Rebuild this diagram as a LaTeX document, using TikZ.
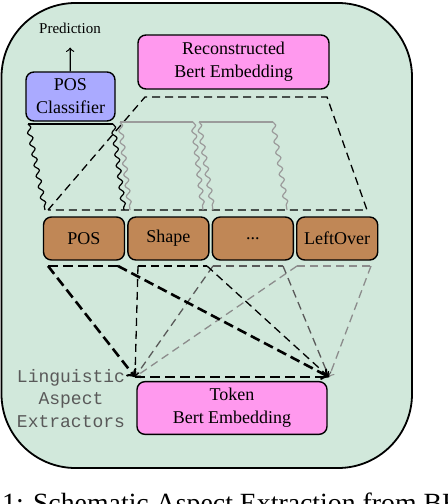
\documentclass[tikz,border=0pt]{standalone}
\usepackage{fontspec}
\setmainfont{Liberation Serif}
\setmonofont{Liberation Mono}
\usetikzlibrary{positioning,decorations.pathmorphing}
\definecolor{fondo} {RGB}{209,232,219}
\definecolor{rosa}  {RGB}{255,153,238}
\definecolor{lila}  {RGB}{170,170,255}
\definecolor{marron}{RGB}{192,135,86}
\definecolor{gris}  {RGB}{155,155,155}

\begin{document}
\begin{tikzpicture}[   % opciones por defecto
      x=0.5pt, y=-0.5pt, % una unidad = un pixel de la imagen
      line width=0.6pt,
      font=\fontsize{9}{11.5}\selectfont
    ]
    \tikzstyle{caja}=[draw, rounded corners=4pt, line width=0.7pt, align=center];
    \tikzstyle{aspecto}=[caja, fill=marron, minimum width=40.5pt, minimum height=21.5pt, inner sep=1pt];
    \tikzstyle{ola}=[decorate, decoration={snake, segment length=5.5pt, amplitude=1.1pt}];
    \tikzstyle{fino}=[dash pattern=on 4pt off 2.5pt, line width=0.65pt, draw=black];
    \tikzstyle{grueso}=[dash pattern=on 5pt off 2.5pt, line width=1.3pt, draw=black];
    \tikzstyle{medio}=[fino, draw=black!65];
    \tikzstyle{claro}=[fino, draw=black!45];
    %
    \useasboundingbox (0,0) rectangle (448,504);
    \clip (0,0) rectangle (448,504);
    %
    % marco de fondo
    \draw[fill=fondo, line width=0.9pt, rounded corners=37pt] (1.5,3) rectangle (412,468);
    %
    % clasificador y prediccion
    \node [caja, fill=lila, minimum width=44.5pt, minimum height=24.5pt] (cls) at (70.5,96.5) {POS\\Classifier};
    \node [font=\fontsize{7.5}{9}\selectfont] (pred) at (70,28) {Prediction};
    \draw[->, shorten >=3.5pt] (cls) -- (pred);
    %
    % embedding reconstruido
    \node [caja, fill=rosa, minimum width=95.5pt, minimum height=27pt] (rec) at (233.5,62) {Reconstructed\\Bert Embedding};
    %
    % extractores de aspectos
    \node [aspecto] (pos) at (84,238.5) {POS};
    \node [aspecto, right=1pt of pos]   (shape) {Shape};
    \node [aspecto, right=1pt of shape] (dots)  {...};
    \node [aspecto, right=1pt of dots]  (left)  {LeftOver};
    %
    % trapecio de reconstruccion
    \coordinate (t1) at (48,210);
    \coordinate (t2) at (145,97);
    \coordinate (t3) at (327,97);
    \coordinate (t4) at (367,210);
    \draw[fino] (t1) -- (t2) -- (t3) -- (t4) -- cycle;
    %
    % ondas hacia cada aspecto
    \foreach \col/\xa/\xb/\xc/\xd/\ya [count=\i] in
        {black/28/113/45/124/124, gris/120/193/130/203/122, gris/199/273/213/287/122} {
      \coordinate (w\i a) at (\xa,\ya);
      \coordinate (w\i b) at (\xb,\ya);
      \coordinate (w\i c) at (\xc,210);
      \coordinate (w\i d) at (\xd,210);
      \draw[draw=\col] (w\i a) -- (w\i b);
      \draw[ola, draw=\col] (w\i a) -- (w\i c);
      \draw[ola, draw=\col] (w\i b) -- (w\i d);
    }
    %
    % proyecciones hacia el embedding del token
    \coordinate (bl) at (135,377);
    \coordinate (br) at (329,377);
    \foreach \s/\xa/\xb [count=\i] in {claro/297/371, medio/213/283, fino/138/207, grueso/48/118} {
      \coordinate (a\i) at (\xa,266);
      \coordinate (b\i) at (\xb,266);
      \draw[\s] (a\i) -- (b\i);
      \draw[\s, ->] (a\i) -- (bl);
      \draw[\s, ->] (b\i) -- (br);
    }
    \draw[grueso] (bl) -- (br);
    %
    % embedding del token
    \node [caja, fill=rosa, minimum width=95pt, minimum height=26pt] (tok) at (232,408) {Token\\Bert Embedding};
    %
    % etiqueta de los extractores
    \node [align=center, text=black!65, font=\ttfamily\fontsize{9}{11.25}\selectfont] (lae) at (71,398.5)
      {Linguistic\\Aspect\\Extractors};
    %
    % pie de figura (cortado como en el original)
    \node [anchor=base west, inner sep=0pt, font=\fontsize{13.9}{16}\selectfont] (cap) at (-78,512)
      {Figure 1: Schematic Aspect Extraction from BERT};
  \end{tikzpicture}
\end{document}
